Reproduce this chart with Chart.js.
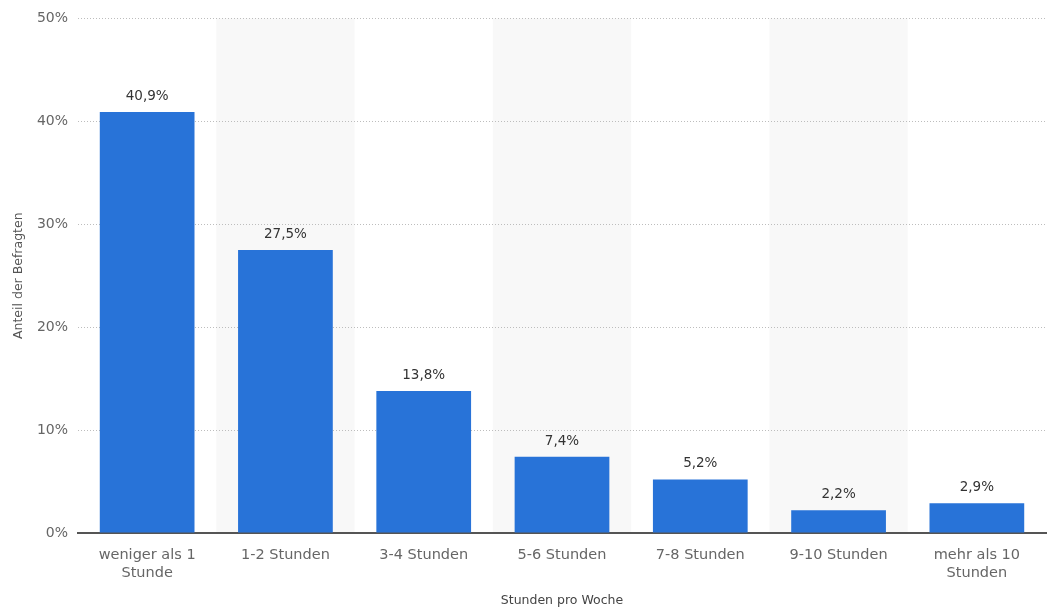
<!DOCTYPE html>
<html>
<head>
<meta charset="utf-8">
<script src="https://cdn.jsdelivr.net/npm/chart.js@4.4.1/dist/chart.umd.min.js"></script>
<style>
  html, body { margin: 0; padding: 0; background: #fff; }
  #wrap { width: 1049px; height: 608px; position: relative; }
</style>
</head>
<body>
<div id="wrap"><canvas id="grafico"></canvas></div>
<script>
// Daten
const kategorien = [
    ['weniger als 1', 'Stunde'],
    '1-2 Stunden',
    '3-4 Stunden',
    '5-6 Stunden',
    '7-8 Stunden',
    '9-10 Stunden',
    ['mehr als 10', 'Stunden']
];
const anteile = [40.9, 27.5, 13.8, 7.4, 5.2, 2.2, 2.9];
const yTicks = [0, 10, 20, 30, 40, 50];

const schrift = 'DejaVu Sans, Verdana, sans-serif';

// Hintergrundstreifen für jede zweite Kategorie (vor den Achsen zeichnen)
const streifenPlugin = {
    id: 'streifen',
    beforeDraw(chart) {
        const { ctx, chartArea, scales } = chart;
        const x = scales.x;
        const breite = x.width / kategorien.length;
        ctx.save();
        ctx.fillStyle = '#f8f8f8';
        for (let i = 1; i < kategorien.length; i += 2) {
            const mitte = x.getPixelForValue(i);
            ctx.fillRect(mitte - breite / 2, chartArea.top, breite, chartArea.bottom - chartArea.top);
        }
        ctx.restore();
    }
};

// Werte über den Balken
const wertePlugin = {
    id: 'werte',
    afterDatasetsDraw(chart) {
        const { ctx } = chart;
        const meta = chart.getDatasetMeta(0);
        ctx.save();
        ctx.font = '13.5px ' + schrift;
        ctx.fillStyle = '#333';
        ctx.textAlign = 'center';
        ctx.textBaseline = 'bottom';
        meta.data.forEach((bar, i) => {
            const text = anteile[i].toFixed(1).replace('.', ',') + '%';
            ctx.fillText(text, bar.x, bar.y - 9);
        });
        ctx.restore();
    }
};

new Chart(document.getElementById('grafico'), {
    type: 'bar',
    data: {
        labels: kategorien,
        datasets: [{
            data: anteile,
            backgroundColor: '#2873d8',
            barPercentage: 0.685,
            categoryPercentage: 1
        }]
    },
    options: {
        responsive: true,
        maintainAspectRatio: false,
        animation: false,
        layout: { padding: { top: 14, right: 3, left: 0, bottom: 0 } },
        plugins: {
            legend: { display: false },
            tooltip: { enabled: false }
        },
        scales: {
            x: {
                grid: { display: false },
                border: { display: true, color: '#555', width: 2 },
                ticks: {
                    color: '#666',
                    font: { family: schrift, size: 14.5 },
                    maxRotation: 0,
                    autoSkip: false,
                    padding: 6
                },
                title: {
                    display: true,
                    text: 'Stunden pro Woche',
                    color: '#444',
                    font: { family: schrift, size: 12.5 },
                    padding: { top: 8, bottom: 0 }
                },
                afterFit(scale) { scale.height = 75; }
            },
            y: {
                min: 0,
                max: 50,
                afterBuildTicks(scale) {
                    scale.ticks = yTicks.map(v => ({ value: v }));
                },
                grid: { color: '#bdbdbd', drawTicks: false },
                border: { display: false, dash: [1, 2] },
                ticks: {
                    color: '#666',
                    font: { family: schrift, size: 14 },
                    padding: 10,
                    callback: v => v + '%'
                },
                title: {
                    display: true,
                    text: 'Anteil der Befragten',
                    color: '#555',
                    font: { family: schrift, size: 12.5 },
                    padding: { top: 11, bottom: 6 }
                },
                afterFit(scale) { scale.width = 78; }
            }
        }
    },
    plugins: [streifenPlugin, wertePlugin]
});
</script>
</body>
</html>
